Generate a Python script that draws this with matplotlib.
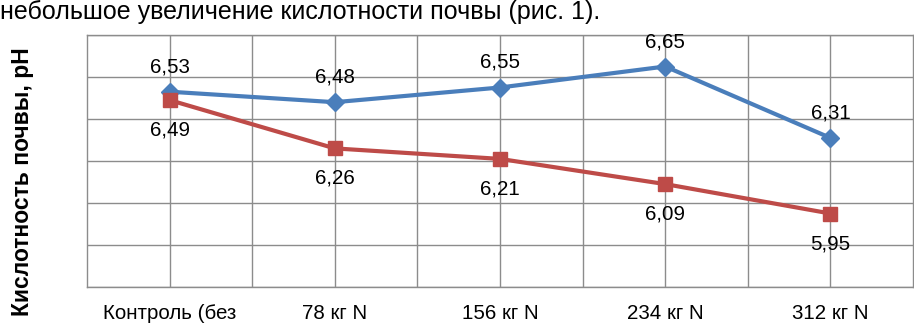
import matplotlib
matplotlib.use("Agg")
import matplotlib.pyplot as plt
from matplotlib.ticker import MultipleLocator

plt.rcParams["font.family"] = ["Liberation Sans", "DejaVu Sans"]

categories = ["Контроль (без", "78 кг N", "156 кг N", "234 кг N", "312 кг N"]
series_top = [6.53, 6.48, 6.55, 6.65, 6.31]
series_bottom = [6.49, 6.26, 6.21, 6.09, 5.95]
labels_top = ["6,53", "6,48", "6,55", "6,65", "6,31"]
labels_bottom = ["6,49", "6,26", "6,21", "6,09", "5,95"]

BLUE, RED, GRID = "#4a7ebb", "#be4b48", "#8c8c8c"

fig = plt.figure(figsize=(9.14, 3.24), dpi=100)
ax = fig.add_axes([87 / 914, 1 - 287 / 324, 826 / 914, 252 / 324])

x = list(range(len(categories)))
ax.plot(x, series_top, color=BLUE, lw=3, marker="D", ms=9, zorder=3)
ax.plot(x, series_bottom, color=RED, lw=3, marker="s", ms=10, zorder=4)

for xi, v, s in zip(x, series_top, labels_top):
    ax.annotate(s, (xi, v), xytext=(0, 25), textcoords="offset pixels",
                ha="center", va="center", fontsize=14.8)
for xi, v, s in zip(x, series_bottom, labels_bottom):
    ax.annotate(s, (xi, v), xytext=(0, -30), textcoords="offset pixels",
                ha="center", va="center", fontsize=14.8)

ax.set_xlim(-0.5, 4.5)
ax.set_ylim(5.6, 6.8)
ax.yaxis.set_major_locator(MultipleLocator(0.2))
ax.set_xticks(x)
ax.set_xticks([i + 0.5 for i in x[:-1]], minor=True)
ax.set_xticklabels(categories, fontsize=14.8)
ax.tick_params(axis="x", which="both", length=0, pad=12)
ax.tick_params(axis="y", length=0, labelleft=False)
ax.grid(True, which="both", color=GRID, lw=1)
for sp in ax.spines.values():
    sp.set_color(GRID)
    sp.set_linewidth(1)

fig.text(23 / 914, 1 - 182 / 324, "Кислотность почвы, pH", rotation=90,
         ha="center", va="center", fontsize=16.5, fontweight="bold")
fig.text(0, 1 - 19 / 324, "небольшое увеличение кислотности почвы (рис. 1).",
         ha="left", va="baseline", fontsize=18)

fig.savefig("out.png", dpi=100)
